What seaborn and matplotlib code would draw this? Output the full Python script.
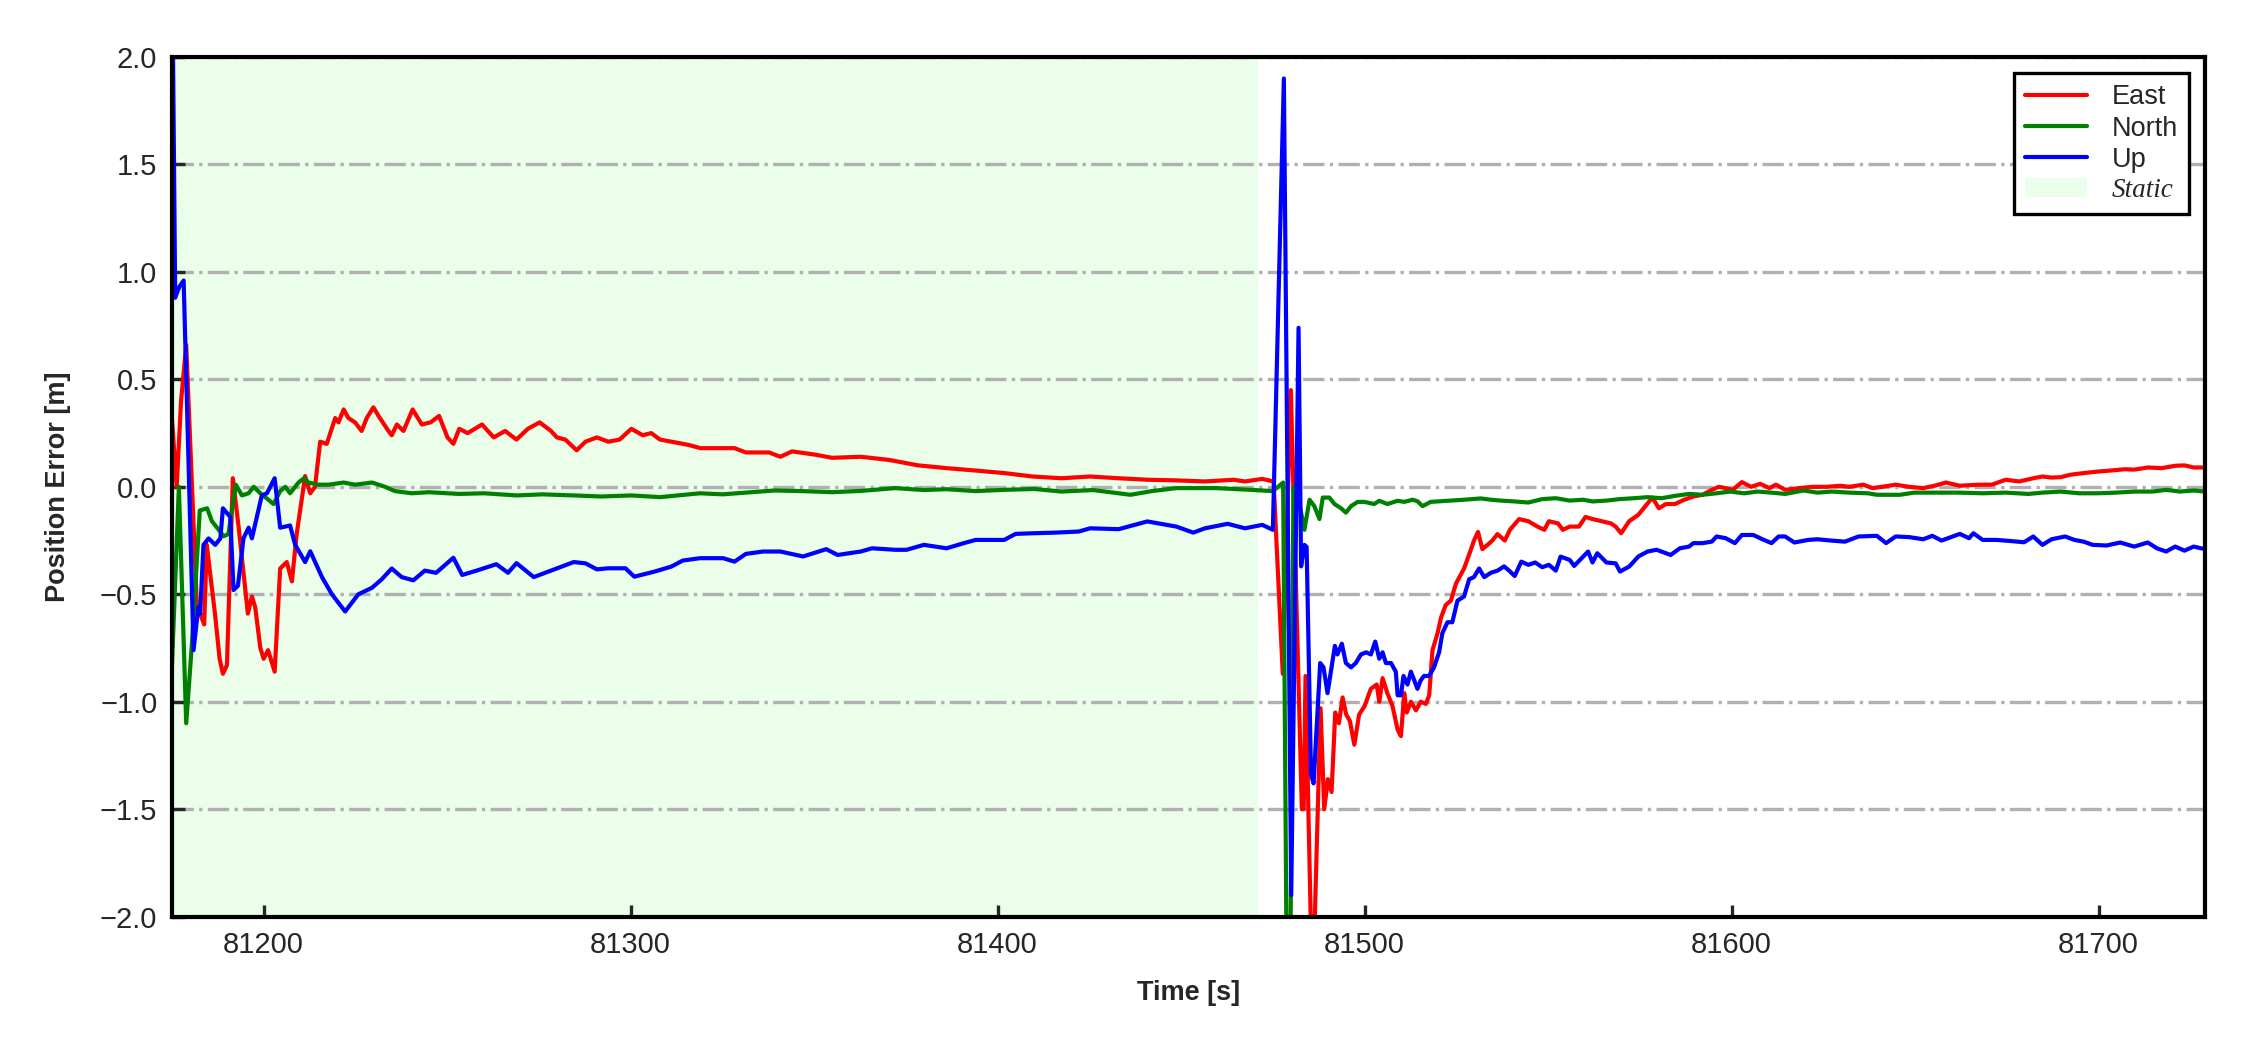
import matplotlib
matplotlib.use("Agg")
import matplotlib.pyplot as plt
import matplotlib.patches as mpatches
from matplotlib.lines import Line2D
import seaborn as sns

# position error (ENU) vs GPS time
east_t = [81175, 81176.3, 81177.5, 81178.9, 81181.8, 81183.8, 81184.5, 81186.8, 81188, 81188.9,
          81190, 81191.6, 81193.2, 81195.7, 81196.8, 81197.7, 81199.1, 81200, 81201.2, 81203,
          81204.5, 81206.3, 81207.7, 81209, 81211.3, 81212.7, 81214, 81215.4, 81217.2, 81219.5,
          81220.4, 81221.8, 81223.1, 81224.9, 81226.7, 81228.1, 81229.9, 81231.3, 81234, 81234.9,
          81236.3, 81238.1, 81240.6, 81243.1, 81245.5, 81247.8, 81250.1, 81251.7, 81253.3, 81255.6,
          81259.5, 81262.7, 81265.8, 81268.9, 81272, 81275.2, 81278.3, 81279.9, 81282.2, 81285.3,
          81287.7, 81290.8, 81293.9, 81297, 81300.2, 81303.3, 81305.6, 81308, 81311.1, 81315.8,
          81319, 81323.6, 81328.3, 81331.4, 81337.7, 81340.8, 81344, 81350.2, 81354.9, 81362.7,
          81370.5, 81378.3, 81386.1, 81393.9, 81401.8, 81409.6, 81417.4, 81425.2, 81433, 81440.8,
          81448.7, 81456.5, 81464.3, 81467.4, 81472.1, 81475.2, 81477.7, 81479.9, 81482.9, 81483.4,
          81483.9, 81485.8, 81488, 81489, 81490, 81491, 81492, 81493, 81494, 81495,
          81496, 81497.2, 81498.5, 81500, 81501.7, 81503.3, 81504, 81504.9, 81506.2, 81507.6,
          81509, 81509.9, 81510.8, 81511.5, 81512.6, 81514, 81515.3, 81516.7, 81517.6, 81518.5,
          81519.9, 81520.8, 81522.1, 81523.5, 81524.9, 81527.1, 81528.8, 81529.8, 81530.9, 81532.1,
          81533.5, 81534.8, 81536.2, 81538.2, 81539.6, 81542.1, 81544.6, 81547.1, 81549, 81550.2,
          81552.7, 81554, 81555.9, 81558.4, 81560.2, 81562.1, 81564.6, 81567.1, 81568.4, 81569.9,
          81572.1, 81574.6, 81576.5, 81578.4, 81580.2, 81582.1, 81584.6, 81587.1, 81589.6, 81592.1,
          81594.6, 81596.5, 81598.4, 81600.3, 81602.8, 81605.3, 81607.8, 81610.3, 81612.1, 81614.6,
          81618.4, 81622.1, 81625.9, 81629.6, 81632.1, 81635.9, 81638.4, 81640.9, 81644.7, 81648.4,
          81652.2, 81655.3, 81658.4, 81662.2, 81667.2, 81670.9, 81674.7, 81678.4, 81682.2, 81684.7,
          81687.2, 81689.7, 81692.2, 81695.9, 81699.7, 81703.4, 81707.2, 81709.7, 81713.4, 81717.2,
          81720.9, 81723.4, 81725.9, 81729]
east_v = [0.32, 0.0, 0.40, 0.66, -0.55, -0.64, -0.27, -0.60, -0.80, -0.87,
          -0.83, 0.04, -0.19, -0.59, -0.51, -0.56, -0.75, -0.80, -0.76, -0.86,
          -0.38, -0.35, -0.44, -0.22, 0.05, -0.03, 0.0, 0.21, 0.20, 0.32,
          0.30, 0.36, 0.32, 0.30, 0.26, 0.32, 0.37, 0.33, 0.26, 0.24,
          0.29, 0.26, 0.36, 0.29, 0.30, 0.33, 0.23, 0.20, 0.27, 0.25,
          0.29, 0.23, 0.26, 0.22, 0.27, 0.30, 0.26, 0.23, 0.22, 0.17,
          0.21, 0.23, 0.21, 0.22, 0.27, 0.24, 0.25, 0.22, 0.21, 0.195,
          0.18, 0.18, 0.18, 0.16, 0.16, 0.14, 0.165, 0.15, 0.135, 0.14,
          0.125, 0.10, 0.087, 0.076, 0.064, 0.048, 0.04, 0.048, 0.04, 0.033,
          0.03, 0.025, 0.033, 0.025, 0.037, 0.025, -0.87, 0.45, -1.50, -1.50,
          -0.88, -2.40, -1.03, -1.50, -1.36, -1.42, -1.05, -1.10, -0.98, -1.06,
          -1.09, -1.20, -1.06, -1.02, -0.94, -0.92, -1.00, -0.89, -0.96, -1.02,
          -1.13, -1.16, -0.96, -1.05, -1.00, -1.04, -1.00, -1.01, -0.97, -0.76,
          -0.68, -0.61, -0.55, -0.53, -0.45, -0.38, -0.30, -0.25, -0.21, -0.29,
          -0.27, -0.25, -0.22, -0.25, -0.20, -0.15, -0.16, -0.185, -0.20, -0.16,
          -0.17, -0.20, -0.185, -0.185, -0.14, -0.15, -0.16, -0.17, -0.185, -0.216,
          -0.16, -0.13, -0.09, -0.05, -0.10, -0.08, -0.08, -0.06, -0.045, -0.037,
          -0.014, 0.0, -0.006, -0.014, 0.022, 0.0, 0.014, -0.006, 0.01, -0.014,
          -0.006, 0.0, 0.0, 0.005, 0.0, 0.01, -0.006, 0.0, 0.01, 0.0,
          -0.006, 0.005, 0.02, 0.005, 0.01, 0.01, 0.033, 0.025, 0.04, 0.048,
          0.043, 0.045, 0.056, 0.064, 0.071, 0.076, 0.082, 0.08, 0.09, 0.087,
          0.098, 0.10, 0.09, 0.09]

north_t = [81175, 81176.9, 81178.9, 81180.5, 81182.6, 81184.6, 81185.9, 81187.3, 81189.1, 81190.4,
           81192.4, 81194.1, 81195.9, 81197.3, 81199.1, 81201.3, 81202.7, 81204.5, 81205.9, 81207.2,
           81209.5, 81211, 81212.2, 81214.9, 81217.7, 81221.8, 81224.9, 81229.5, 81233.1, 81235.8,
           81240.4, 81245, 81253.3, 81260, 81268.9, 81276, 81284.5, 81292, 81300.2, 81308,
           81318.9, 81325, 81331.4, 81339.2, 81347, 81355, 81362.7, 81372.1, 81380, 81386.1,
           81394, 81401.8, 81410, 81417.4, 81426, 81436.2, 81442, 81448.7, 81459.6, 81469,
           81475, 81477.8, 81479.3, 81480.6, 81481.5, 81482.7, 81483.6, 81485, 81486.3, 81487.7,
           81488.6, 81490.4, 81491.8, 81493.6, 81494.9, 81496.3, 81498.1, 81499.9, 81502.6, 81504,
           81506.2, 81509, 81510.8, 81513.1, 81514.4, 81515.8, 81518, 81522.6, 81527.1, 81531.7,
           81534.4, 81537.1, 81540.9, 81544.6, 81548.4, 81552.1, 81555.9, 81559.6, 81562.1, 81565.9,
           81569.6, 81573.4, 81577.1, 81580.9, 81584.6, 81588.4, 81592.1, 81595.9, 81599.6, 81603.4,
           81607.1, 81610.9, 81614.6, 81619.6, 81623.4, 81627.1, 81632.1, 81637.1, 81639.6, 81645.9,
           81649.7, 81655.9, 81662.2, 81668.4, 81674.7, 81680.9, 81684.7, 81689.7, 81694.7, 81699.7,
           81704.7, 81709.7, 81714.7, 81718.4, 81722.2, 81725.9, 81729]
north_v = [-0.84, 0.0, -1.10, -0.72, -0.11, -0.10, -0.16, -0.19, -0.23, -0.22,
           0.01, -0.04, -0.03, 0.0, -0.03, -0.06, -0.08, -0.02, 0.0, -0.03,
           0.02, 0.04, 0.02, 0.01, 0.01, 0.02, 0.01, 0.02, 0.0, -0.02,
           -0.03, -0.025, -0.033, -0.03, -0.04, -0.035, -0.04, -0.045, -0.04, -0.048,
           -0.03, -0.035, -0.027, -0.017, -0.02, -0.025, -0.019, -0.006, -0.015, -0.011,
           -0.02, -0.014, -0.01, -0.022, -0.015, -0.037, -0.02, -0.006, -0.006, -0.014,
           -0.02, 0.02, -3.50, 0.0, -0.03, -0.12, -0.20, -0.06, -0.09, -0.15,
           -0.05, -0.05, -0.08, -0.10, -0.12, -0.09, -0.07, -0.07, -0.08, -0.065,
           -0.08, -0.065, -0.07, -0.06, -0.067, -0.09, -0.07, -0.065, -0.06, -0.054,
           -0.06, -0.064, -0.068, -0.073, -0.057, -0.053, -0.064, -0.06, -0.068, -0.064,
           -0.057, -0.053, -0.048, -0.053, -0.042, -0.033, -0.037, -0.03, -0.022, -0.03,
           -0.022, -0.027, -0.033, -0.017, -0.027, -0.022, -0.027, -0.03, -0.037, -0.037,
           -0.027, -0.027, -0.027, -0.03, -0.027, -0.033, -0.027, -0.022, -0.03, -0.03,
           -0.027, -0.022, -0.022, -0.014, -0.022, -0.017, -0.022]

up_t = [81175, 81175.9, 81177, 81178.2, 81180.9, 81182.2, 81182.7, 81183.6, 81185, 81186.8,
        81188.2, 81188.9, 81190.9, 81191.8, 81193, 81194.5, 81195.9, 81196.8, 81199.5, 81200.9,
        81203, 81204.5, 81207.2, 81208.6, 81211.3, 81212.7, 81215.9, 81218.6, 81222.2, 81225.8,
        81229.5, 81232.2, 81234.9, 81237.6, 81240.8, 81243.9, 81247, 81251.7, 81254.1, 81258,
        81263.4, 81266.6, 81268.9, 81273.6, 81278.3, 81281.4, 81284.5, 81287.7, 81290.8, 81293.9,
        81298.6, 81301, 81306.4, 81311.1, 81314.2, 81318.9, 81325.2, 81328.3, 81331.4, 81336.1,
        81340.8, 81347, 81353.3, 81356.4, 81362.7, 81365.8, 81372.1, 81375.2, 81379.9, 81386.1,
        81390.8, 81394, 81401.8, 81404.9, 81409.6, 81415.8, 81422.1, 81425.2, 81433, 81440.8,
        81448.7, 81453.3, 81456.5, 81462.7, 81467.4, 81472.1, 81475, 81478, 81480, 81482,
        81482.7, 81483.6, 81484.2, 81485.4, 81486.1, 81487.9, 81488.8, 81489.9, 81490.8, 81491.9,
        81492.6, 81493.8, 81494.9, 81496.3, 81497.6, 81499, 81500.4, 81501.7, 81502.9, 81504,
        81504.9, 81505.8, 81507.2, 81508.5, 81509, 81509.9, 81510.6, 81511.7, 81512.6, 81513.3,
        81514.4, 81515.3, 81516.2, 81517.6, 81518.9, 81520.3, 81521.2, 81522.6, 81523.9, 81525.3,
        81527.1, 81528.5, 81529.8, 81531.2, 81532.6, 81534.4, 81536.2, 81538, 81539.4, 81540.9,
        81542.7, 81544.6, 81546.5, 81548.4, 81550.2, 81552.1, 81553.4, 81555.9, 81557.1, 81560.9,
        81562.1, 81563.4, 81565.9, 81568.4, 81569.6, 81572.1, 81574.6, 81577.1, 81579.6, 81583.4,
        81585.9, 81588.4, 81589.6, 81592.1, 81594.6, 81595.9, 81598.4, 81600.9, 81602.8, 81605.9,
        81608.4, 81610.9, 81612.8, 81614.6, 81617.1, 81620.9, 81623.4, 81627.1, 81630.9, 81634.6,
        81639.6, 81642.1, 81644.7, 81648.4, 81652.2, 81654.7, 81657.2, 81662.2, 81664.7, 81665.9,
        81668.4, 81672.2, 81675.9, 81679.7, 81682.2, 81684.7, 81687.2, 81690.9, 81693.4, 81695.9,
        81698.4, 81702.2, 81705.9, 81709.7, 81713.4, 81715.9, 81718.4, 81720.9, 81723.4, 81725.9,
        81729]
up_v = [2.60, 0.88, 0.93, 0.96, -0.76, -0.56, -0.59, -0.27, -0.24, -0.27,
        -0.24, -0.10, -0.14, -0.48, -0.46, -0.24, -0.19, -0.24, -0.04, -0.03,
        0.04, -0.19, -0.18, -0.27, -0.35, -0.30, -0.42, -0.50, -0.58, -0.50,
        -0.47, -0.43, -0.38, -0.42, -0.435, -0.39, -0.40, -0.33, -0.41, -0.39,
        -0.36, -0.40, -0.355, -0.42, -0.39, -0.37, -0.35, -0.356, -0.384, -0.379,
        -0.379, -0.418, -0.395, -0.371, -0.343, -0.332, -0.332, -0.348, -0.312, -0.301,
        -0.301, -0.324, -0.290, -0.317, -0.301, -0.286, -0.293, -0.293, -0.270, -0.286,
        -0.262, -0.247, -0.247, -0.219, -0.216, -0.213, -0.208, -0.193, -0.197, -0.161,
        -0.185, -0.213, -0.193, -0.172, -0.193, -0.177, -0.20, 1.90, -1.90, 0.74,
        -0.37, -0.27, -0.28, -1.34, -1.38, -0.82, -0.84, -0.96, -0.86, -0.74,
        -0.78, -0.73, -0.82, -0.84, -0.82, -0.78, -0.77, -0.78, -0.72, -0.80,
        -0.77, -0.82, -0.82, -0.86, -0.97, -0.97, -0.88, -0.92, -0.86, -0.89,
        -0.94, -0.90, -0.88, -0.88, -0.84, -0.77, -0.68, -0.63, -0.63, -0.53,
        -0.51, -0.43, -0.42, -0.38, -0.42, -0.40, -0.39, -0.37, -0.39, -0.415,
        -0.348, -0.363, -0.352, -0.374, -0.363, -0.390, -0.325, -0.340, -0.368, -0.301,
        -0.352, -0.309, -0.352, -0.356, -0.394, -0.371, -0.324, -0.301, -0.293, -0.317,
        -0.286, -0.278, -0.262, -0.262, -0.255, -0.231, -0.239, -0.262, -0.224, -0.224,
        -0.244, -0.262, -0.231, -0.231, -0.259, -0.247, -0.244, -0.250, -0.255, -0.231,
        -0.228, -0.262, -0.231, -0.234, -0.244, -0.228, -0.250, -0.219, -0.239, -0.216,
        -0.247, -0.247, -0.252, -0.258, -0.231, -0.270, -0.244, -0.231, -0.247, -0.255,
        -0.270, -0.273, -0.259, -0.278, -0.259, -0.286, -0.301, -0.278, -0.297, -0.278,
        -0.290]

static_start = 81175
static_end = 81471

x_ticks = [81200, 81300, 81400, 81500, 81600, 81700]
y_ticks = [-2.0, -1.5, -1.0, -0.5, 0.0, 0.5, 1.0, 1.5, 2.0]

sns.set_style("white")
plt.rcParams['font.family'] = ['Liberation Sans', 'DejaVu Sans']

fig = plt.figure(figsize=(7.5, 3.5), dpi=300)
ax = fig.add_axes([0.0764, 0.127, 0.9036, 0.8187])

# static period shading
ax.axvspan(static_start, static_end, color='palegreen', alpha=0.2, lw=0, zorder=0)

series = [(east_t, east_v, 'red', 'East'),
          (north_t, north_v, 'green', 'North'),
          (up_t, up_v, 'blue', 'Up')]
for t, v, c, name in series:
    sns.lineplot(x=t, y=v, color=c, linewidth=1.0, estimator=None, sort=False, ax=ax)

ax.set_xlim(81175, 81729)
ax.set_ylim(-2, 2)
ax.set_xticks(x_ticks)
ax.set_xticklabels([str(x) for x in x_ticks])
ax.set_yticks(y_ticks)
ax.set_yticklabels([('%.1f' % y).replace('-', '\u2212') for y in y_ticks])
ax.tick_params(direction='in', length=3, width=0.8, labelsize=7, pad=3.5,
               bottom=True, left=True, top=False, right=False)
ax.yaxis.grid(True, linestyle='-.', color='#b0b0b0', linewidth=0.8)
ax.xaxis.grid(False)
for s in ax.spines.values():
    s.set_color('black')
    s.set_linewidth(1.0)

ax.set_xlabel('Time [s]', fontsize=6.5, fontweight='bold', labelpad=5)
ax.set_ylabel('Position Error [m]', fontsize=6.5, fontweight='bold', labelpad=7)

handles = [Line2D([], [], color=c, lw=1.0) for _, _, c, _ in series]
handles.append(mpatches.Patch(color='palegreen', alpha=0.2, lw=0))
labels = [name for _, _, _, name in series] + ['Static']
leg = ax.legend(handles, labels, loc='upper right', fontsize=6.5, frameon=True,
                fancybox=False, edgecolor='black', framealpha=1, borderaxespad=0.6,
                handlelength=2.3, labelspacing=0.2, borderpad=0.4, handletextpad=0.9)
leg.get_frame().set_linewidth(0.8)
st = leg.get_texts()[3]
st.set_fontfamily(['Liberation Serif', 'DejaVu Serif'])
st.set_fontstyle('italic')

fig.savefig('out.png', dpi=300)
